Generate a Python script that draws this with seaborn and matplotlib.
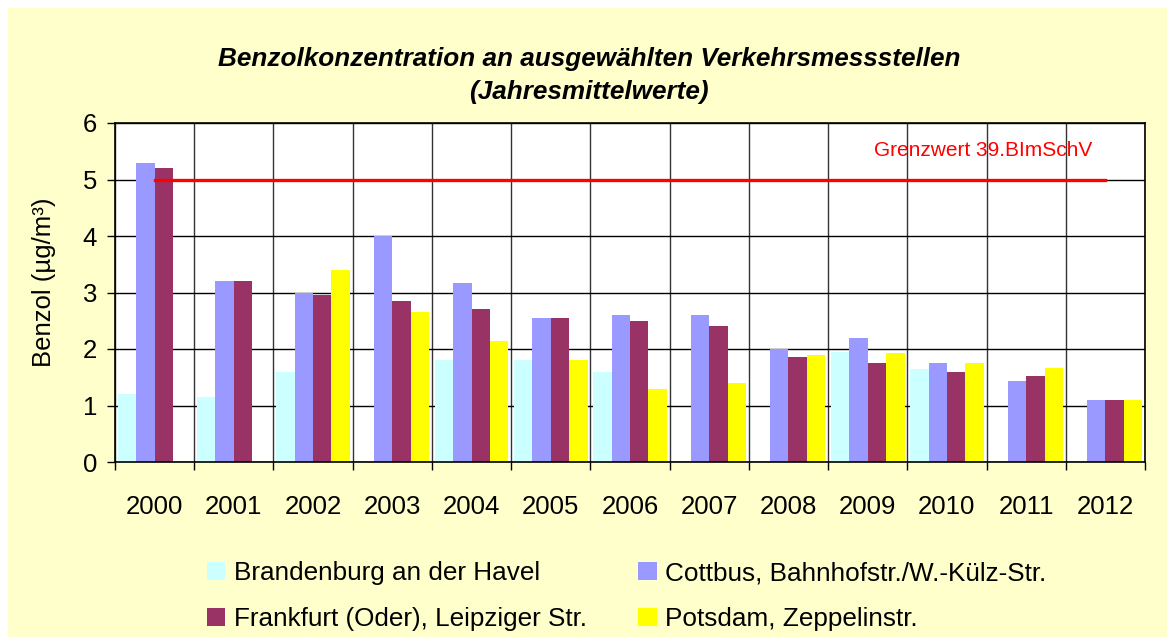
import numpy as np
import pandas as pd
import matplotlib
matplotlib.use("Agg")
import matplotlib.pyplot as plt
from matplotlib.patches import Rectangle
from matplotlib.ticker import MultipleLocator, FixedLocator
import seaborn as sns

years = ["2000", "2001", "2002", "2003", "2004", "2005", "2006",
         "2007", "2008", "2009", "2010", "2011", "2012"]
stations = ["Brandenburg an der Havel",
            "Cottbus, Bahnhofstr./W.-Külz-Str.",
            "Frankfurt (Oder), Leipziger Str.",
            "Potsdam, Zeppelinstr."]
brandenburg = [1.2, 1.15, 1.6, np.nan, 1.8, 1.8, 1.6, np.nan, np.nan, 1.95, 1.65, np.nan, np.nan]
cottbus = [5.3, 3.2, 3.0, 4.0, 3.17, 2.55, 2.6, 2.6, 2.0, 2.2, 1.75, 1.43, 1.1]
frankfurt = [5.2, 3.2, 2.95, 2.85, 2.7, 2.55, 2.5, 2.4, 1.86, 1.75, 1.6, 1.52, 1.1]
potsdam = [np.nan, np.nan, 3.4, 2.65, 2.14, 1.8, 1.3, 1.4, 1.9, 1.93, 1.75, 1.66, 1.1]
grenzwert = [5] * len(years)
colors = ["#CCFFFF", "#9999FF", "#993366", "#FFFF00"]

df = pd.DataFrame({"Jahr": years * 4,
                   "Station": [s for s in stations for _ in years],
                   "Wert": brandenburg + cottbus + frankfurt + potsdam})

plt.rcParams["font.family"] = ["Liberation Sans", "DejaVu Sans"]

fig = plt.figure(figsize=(11.67, 6.37), dpi=100, facecolor="white")
fig.patches.append(Rectangle((8 / 1167, 0), 1, 1 - 8 / 637, transform=fig.transFigure,
                             facecolor="#FFFFCC", edgecolor="none", zorder=-10))
ax = fig.add_axes([115 / 1167, 1 - 462 / 637, 1030 / 1167, 339 / 637])
ax.set_facecolor("white")

sns.barplot(data=df, x="Jahr", y="Wert", hue="Station", order=years, hue_order=stations,
            palette=colors, width=0.93, gap=0, errorbar=None, saturation=1,
            linewidth=0, ax=ax, legend=True)

# Grenzwert line
ax.plot(range(len(years)), grenzwert, color="#FF0000", lw=2.4, zorder=5)
ax.text(0.843, 0.92, "Grenzwert 39.BImSchV", transform=ax.transAxes, color="#FF0000",
        fontsize=15, ha="center", va="center")

ax.set_ylim(0, 6)
ax.set_xlim(-0.5, len(years) - 0.5)
ax.yaxis.set_major_locator(MultipleLocator(1))
ax.xaxis.set_minor_locator(FixedLocator(np.arange(-0.5, len(years), 1)))
ax.set_axisbelow(True)
ax.grid(axis="y", which="major", color="black", lw=1.0)
ax.grid(axis="x", which="minor", color="#333333", lw=1.0)
ax.grid(axis="x", which="major", visible=False)
for s in ax.spines.values():
    s.set_color("black")
    s.set_linewidth(1.2)

ax.tick_params(axis="y", direction="out", length=6, width=1, labelsize=18.5, pad=7)
ax.tick_params(axis="x", which="major", length=0, labelsize=18.5, pad=24)
ax.tick_params(axis="x", which="minor", direction="out", length=6, width=1)
ax.set_xlabel("")
ax.set_ylabel("Benzol (µg/m³)", fontsize=18.5)
ax.yaxis.set_label_coords(-0.057, 0.531)

fig.text(589 / 1167, 1 - 75.5 / 637,
         "Benzolkonzentration an ausgewählten Verkehrsmessstellen\n(Jahresmittelwerte)",
         ha="center", va="center", fontsize=18.8, fontweight="bold", fontstyle="italic",
         linespacing=1.5)

handles, labels = ax.get_legend_handles_labels()
ax.get_legend().remove()
order = [0, 2, 1, 3]
fig.legend([handles[i] for i in order], [labels[i] for i in order],
           loc="upper left", bbox_to_anchor=(207 / 1167, 1 - 561 / 637),
           ncol=2, frameon=False, fontsize=18.8, handlelength=0.7, handleheight=0.7,
           handletextpad=0.33, columnspacing=1.97, labelspacing=0.84,
           borderpad=0, borderaxespad=0)

fig.savefig("out.png", dpi=100, facecolor=fig.get_facecolor())
